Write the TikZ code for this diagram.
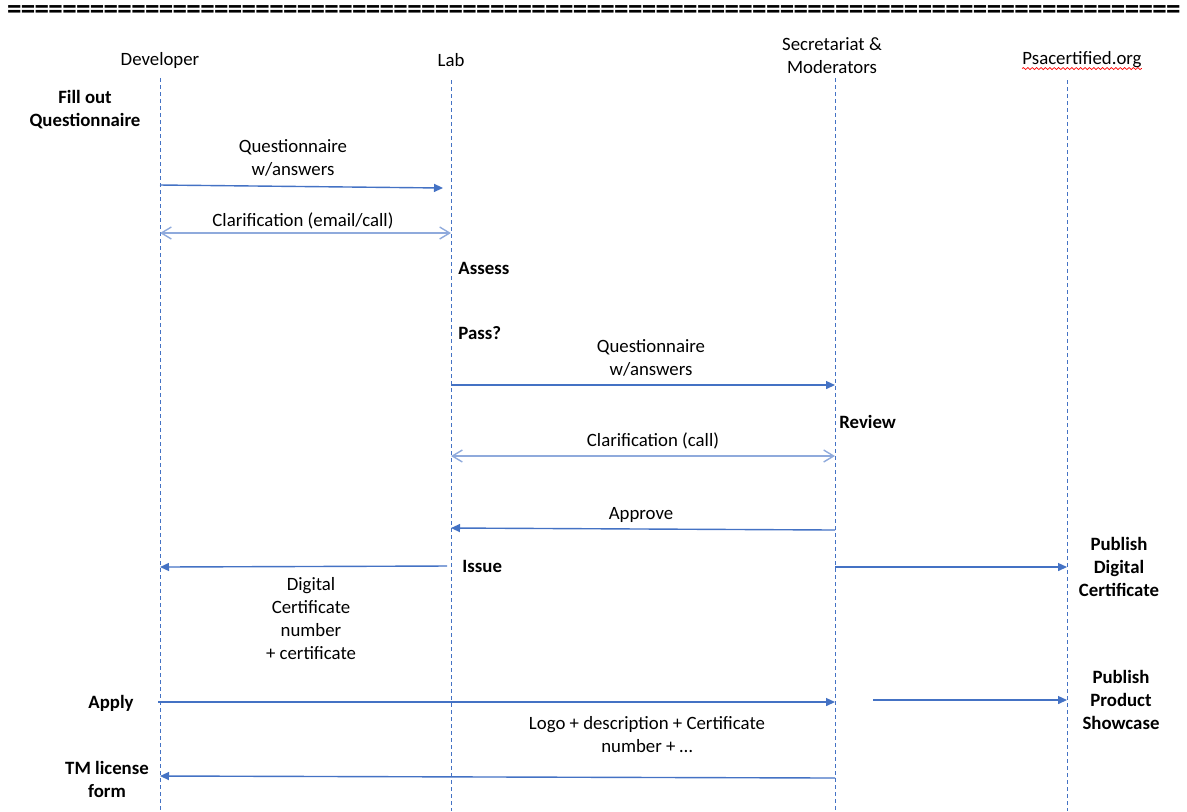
\documentclass[tikz,border=0pt]{standalone}
\usepackage{fontspec}
\setmainfont{Carlito}
\usetikzlibrary{arrows.meta, positioning, decorations.pathmorphing}
\definecolor{msgblue}{HTML}{4472C4}
\definecolor{clarblue}{HTML}{8FAADC}

\begin{document}
\begin{tikzpicture}[x=0.5pt, y=-0.5pt,
    every node/.style={font=\fontsize{9.4}{11.5}\selectfont, inner sep=0pt},
    lifeline/.style={msgblue, line width=0.5pt, dash pattern=on 2pt off 1.5pt},
    msg/.style={msgblue, line width=0.7pt, -{Triangle[length=4.5pt, width=4pt]}},
    clar/.style={clarblue, line width=0.7pt,
      {Straight Barb[length=5pt, width=6pt]}-{Straight Barb[length=5pt, width=6pt]}},
    lbl/.style={align=center},
    act/.style={font=\fontsize{9.4}{11.5}\selectfont\bfseries, align=center}]
    \useasboundingbox (0,0) rectangle (1187,811);

    % Separator row
    \node[font=\fontsize{14.5}{16}\selectfont\bfseries, anchor=base west] (sep) at (7,18.5)
      {\foreach \k in {1,...,85}{\makebox[6.9pt]{=}}};

    % Participants
    \node (dev) at (160,60) {Developer};
    \node (lab) at (451,60) {Lab};
    \node[lbl] (sec) at (832,55.5) {Secretariat \&\\Moderators};
    \node (psa) at (1082,60) {Psacertified.org};
    \draw[red, line width=0.35pt, decorate, decoration={snake, amplitude=0.5pt, segment length=2.2pt}]
      (psa.south west) -- (psa.south east);

    % Lifelines
    \coordinate (devtop) at (160,78);  \coordinate (devbot) at (160,811);
    \coordinate (labtop) at (451,80);  \coordinate (labbot) at (451,811);
    \coordinate (sectop) at (835,78);  \coordinate (secbot) at (835,811);
    \coordinate (psatop) at (1067,80); \coordinate (psabot) at (1067,811);
    \foreach \p in {dev, lab, sec, psa}
      \draw[lifeline] (\p top) -- (\p bot);

    % Steps
    \node[act] (fill) at (85,110) {Fill out\\Questionnaire};
    \node[act, anchor=west] (assess) at (458,268) {Assess};
    \node[act, anchor=west] (pass) at (458,333) {Pass?};
    \node[act, anchor=west] (review) at (839,422) {Review};
    \node[act, anchor=west] (issue) at (462,566) {Issue};
    \node[act] (pubcert) at (1119,566.5) {Publish\\Digital\\Certificate};
    \node[act] (apply) at (111,703) {Apply};
    \node[act] (pubshow) at (1121,700) {Publish\\Product\\Showcase};
    \node[act] (tm) at (107,779.5) {TM license\\form};

    % Message end points
    \coordinate (d1) at (160,185); \coordinate (l1) at (443,188);
    \coordinate (d2) at (160,233); \coordinate (l2) at (451,233);
    \coordinate (l3) at (451,385); \coordinate (s3) at (835,385);
    \coordinate (l4) at (451,456); \coordinate (s4) at (835,456);
    \coordinate (s5) at (835,530); \coordinate (l5) at (451,528);
    \coordinate (l6) at (447,566); \coordinate (d6) at (160,567);
    \coordinate (s7) at (835,567); \coordinate (p7) at (1067,567);
    \coordinate (d8) at (158,702); \coordinate (s8) at (835,702);
    \coordinate (s9) at (873,700); \coordinate (p9) at (1067,700);
    \coordinate (s10) at (835,778); \coordinate (d10) at (160,776);

    % Messages
    \draw[msg] (d1) -- (l1);
    \node[lbl] (m1) at (293,157.5) {Questionnaire\\w/answers};
    \draw[clar] (d2) -- (l2);
    \node (m2) at (303,221) {Clarification (email/call)};
    \draw[msg] (l3) -- (s3);
    \node[lbl] (m3) at (651,357.5) {Questionnaire\\w/answers};
    \draw[clar] (l4) -- (s4);
    \node (m4) at (653,441) {Clarification (call)};
    \draw[msg] (s5) -- (l5);
    \node (m5) at (641,515) {Approve};
    \draw[msg] (l6) -- (d6);
    \node[lbl] (m6) at (311,618.5) {Digital\\Certificate\\number\\+ certificate};
    \draw[msg] (s7) -- (p7);
    \draw[msg] (d8) -- (s8);
    \draw[msg] (s9) -- (p9);
    \node[lbl] (m8) at (647,734.5) {Logo + description + Certificate\\number + …};
    \draw[msg] (s10) -- (d10);
\end{tikzpicture}
\end{document}
